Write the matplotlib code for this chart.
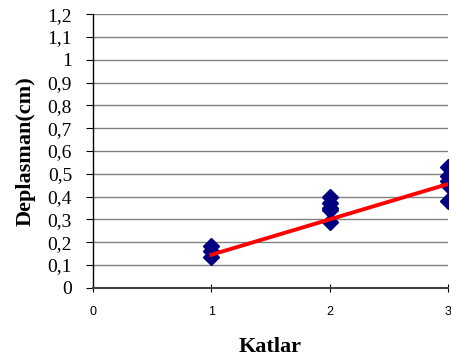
import numpy as np
import matplotlib.pyplot as plt

# Measured displacement per storey
x_kat = [1, 1, 1, 2, 2, 2, 2, 2, 3, 3, 3, 3, 3]
y_depl = [0.185, 0.16, 0.135, 0.40, 0.37, 0.35, 0.34, 0.29, 0.53, 0.49, 0.47, 0.45, 0.38]

# Trend line
x_trend = [1, 2, 3]
y_trend = [0.145, 0.30, 0.455]

y_ticks = np.round(np.arange(0, 1.21, 0.1), 1)
y_labels = ["0" if v == 0 else ("1" if v == 1 else f"{v:.1f}".replace(".", ",")) for v in y_ticks]

fig = plt.figure(figsize=(4.51, 3.63), dpi=100)
ax = fig.add_axes([0.206, 0.207, 0.787, 0.754])

ax.yaxis.grid(True, color="#808080", linewidth=1)
ax.set_axisbelow(True)

ax.plot(x_kat, y_depl, linestyle="none", marker="D", markersize=8,
        color="#000080", zorder=3)
ax.plot(x_trend, y_trend, color="#ff0000", linewidth=2.8, zorder=4)

ax.set_xlim(0, 3)
ax.set_ylim(0, 1.2)
ax.set_xticks([0, 1, 2, 3])
ax.set_xticklabels(["0", "1", "2", "3"], family="Liberation Sans", fontsize=9)
ax.set_yticks(y_ticks)
ax.set_yticklabels(y_labels, family="Liberation Serif", fontsize=14)

ax.spines["top"].set_visible(False)
ax.spines["right"].set_visible(False)
ax.spines["left"].set_linewidth(1)
ax.spines["bottom"].set_linewidth(1.5)
ax.spines["bottom"].set_color("#404040")
ax.tick_params(axis="y", direction="out", length=5, pad=10)
ax.tick_params(axis="x", direction="inout", length=6, pad=10)

ax.set_xlabel("Katlar", family="Liberation Serif", fontweight="bold", fontsize=16)
ax.set_ylabel("Deplasman(cm)", family="Liberation Serif", fontweight="bold", fontsize=16)
ax.xaxis.set_label_coords(0.5, -0.18)
ax.yaxis.set_label_coords(-0.16, 0.5)

fig.savefig("out.png", dpi=100)
